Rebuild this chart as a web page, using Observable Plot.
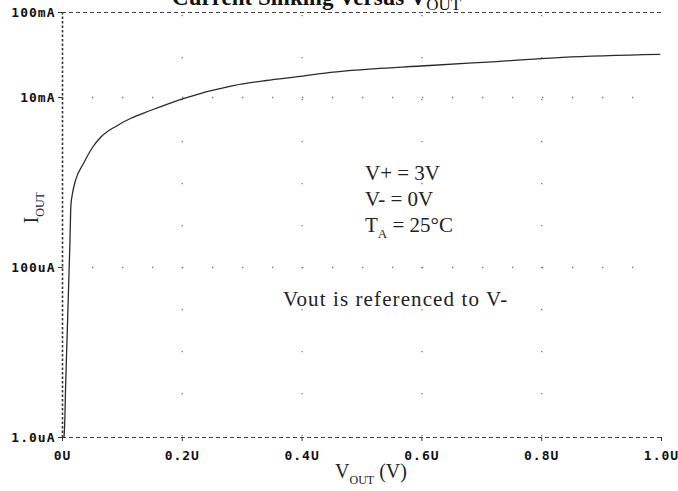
<!DOCTYPE html>
<html>
<head>
<meta charset="utf-8">
<script src="https://cdn.jsdelivr.net/npm/d3@7"></script>
<script src="https://cdn.jsdelivr.net/npm/@observablehq/plot@0.6"></script>
<style>
  html, body { margin: 0; padding: 0; background: #fff; }
  #chart { width: 678px; height: 491px; overflow: hidden; }
</style>
</head>
<body>
<div id="chart"></div>
<script>
// ---- data ----
const vout = [0.0025, 0.004, 0.005, 0.0075, 0.010, 0.0125, 0.014, 0.0167, 0.0217, 0.035, 0.05, 0.0633, 0.0917, 0.1133, 0.1467, 0.2017, 0.285, 0.34, 0.397, 0.447, 0.613, 0.725, 0.835, 0.997];
const iout = [1.0e-6, 1.72e-6, 3.57e-6, 1.38e-5, 5.36e-5, 2.08e-4, 5.36e-4, 7.43e-4, 1.057e-3, 1.67e-3, 2.58e-3, 3.38e-3, 4.69e-3, 5.66e-3, 7.03e-3, 9.73e-3, 1.38e-2, 1.585e-2, 1.77e-2, 1.97e-2, 2.38e-2, 2.65e-2, 2.96e-2, 3.21e-2];

const xTicks = [0, 0.2, 0.4, 0.6, 0.8, 1.0];
const xTickLabels = ["0U", "0.2U", "0.4U", "0.6U", "0.8U", "1.0U"];
const yTicks = [1e-6, 1e-4, 1e-2, 1e-1];
const yTickLabels = ["1.0uA", "100uA", "10mA", "100mA"];
const xGrid = [0.2, 0.4, 0.6, 0.8];
const yGrid = [1e-4, 1e-2];

const title = "Current Sinking Versus V_{OUT}";
const xLabel = "V_{OUT} (V)";
const yLabel = "I_{OUT}";
const notes = ["V+ = 3V", "V- = 0V", "T_{A} = 25°C"];
const noteX = [0.505, 0.505, 0.505];
const noteY = [1.084e-3, 5.36e-4, 2.65e-4];
const footNote = ["Vout is referenced to V-"];
const footX = [0.368];
const footY = [3.57e-5];

// ---- build ----
const curve = vout.map((v, i) => ({v, i: iout[i]}));
const noteData = notes.map((t, k) => ({t, x: noteX[k], y: noteY[k]}));
const footData = footNote.map((t, k) => ({t, x: footX[k], y: footY[k]}));
const xFmt = new Map(xTicks.map((t, k) => [t, xTickLabels[k]]));
const yFmt = new Map(yTicks.map((t, k) => [t, yTickLabels[k]]));

const serif = "'Liberation Serif', 'Times New Roman', serif";
const mono = "'DejaVu Sans Mono', monospace";

const chart = Plot.plot({
  width: 678,
  height: 491,
  marginLeft: 62,
  marginRight: 17,
  marginTop: 12,
  marginBottom: 54,
  style: {background: "#fff", color: "#111", overflow: "visible"},
  x: {domain: [0, 1]},
  y: {type: "log", domain: [1e-6, 1e-1]},
  marks: [
    Plot.gridY(yGrid, {stroke: "#777", strokeOpacity: 1, strokeWidth: 1.3, strokeDasharray: "1.3,28.7"}),
    Plot.gridX(xGrid, {stroke: "#777", strokeOpacity: 1, strokeWidth: 1.3, strokeDasharray: "1.3,40.7", strokeDashoffset: -3}),
    Plot.ruleY([1e-1], {stroke: "#444", strokeWidth: 1, strokeDasharray: "4,3"}),
    Plot.ruleY([1e-6], {stroke: "#444", strokeWidth: 1, strokeDasharray: "4,3"}),
    Plot.ruleX([0], {stroke: "#333", strokeWidth: 1.6, strokeDasharray: "2.5,2"}),
    Plot.axisX(xTicks, {tickSize: 4, tickPadding: 9, tickFormat: d => xFmt.get(d), fontFamily: mono, fontWeight: "bold", fontSize: 13, label: null, stroke: "#333"}),
    Plot.axisY(yTicks, {tickSize: 4, tickPadding: 3, tickFormat: d => yFmt.get(d), fontFamily: mono, fontWeight: "bold", fontSize: 13, label: null, stroke: "#333"}),
    Plot.line(curve, {x: "v", y: "i", curve: "monotone-x", stroke: "#2a2a2a", strokeWidth: 1.3}),
    Plot.text(noteData, {x: "x", y: "y", text: "t", textAnchor: "start", lineAnchor: "bottom", fontFamily: serif, fontSize: 21, fill: "#222"}),
    Plot.text(footData, {x: "x", y: "y", text: "t", textAnchor: "start", lineAnchor: "bottom", fontFamily: serif, fontSize: 21, fill: "#222"}),
    Plot.text([title], {x: () => 0.183, y: () => 0.124, text: d => d, textAnchor: "start", lineAnchor: "bottom", fontFamily: serif, fontWeight: "bold", fontSize: 23, fill: "#111"}),
    Plot.text([xLabel], {x: () => 0.455, y: () => 3.3e-7, text: d => d, textAnchor: "start", lineAnchor: "bottom", fontFamily: serif, fontSize: 20, fill: "#222"}),
    Plot.text([yLabel], {x: () => -0.0417, y: () => 3.3e-4, text: d => d, textAnchor: "start", lineAnchor: "bottom", rotate: -90, fontFamily: serif, fontSize: 20, fill: "#222"})
  ]
});

// subscripts: rewrite "X_{sub}rest" into tspans
d3.select(chart).selectAll("text").each(function () {
  const t = this.textContent;
  const m = t.match(/^(.*?)_\{(.*?)\}(.*)$/);
  if (!m) return;
  const el = d3.select(this);
  const fs = parseFloat(el.attr("font-size")) || parseFloat(d3.select(this.parentNode).attr("font-size")) || 20;
  const isTitle = m[1].startsWith("Current");
  const subSize = isTitle ? 17 : Math.round(fs * 0.62);
  const shift = isTitle ? 5 : Math.round(fs * 0.3);
  el.text(null);
  el.append("tspan").text(m[1]);
  el.append("tspan").attr("dy", shift).attr("font-size", subSize).attr("font-weight", "normal").text(m[2]);
  if (m[3]) el.append("tspan").attr("dy", -shift).text(m[3]);
});

// letter-spacing tweaks
d3.select(chart).selectAll("g[aria-label='x-axis tick label'] text, g[aria-label='y-axis tick label'] text").style("letter-spacing", "1px");
d3.select(chart).selectAll("text")
  .filter(function () { return footNote.includes(this.textContent); })
  .attr("letter-spacing", "1.1px")
  .style("letter-spacing", "1.1px");

document.getElementById("chart").appendChild(chart);
</script>
</body>
</html>
